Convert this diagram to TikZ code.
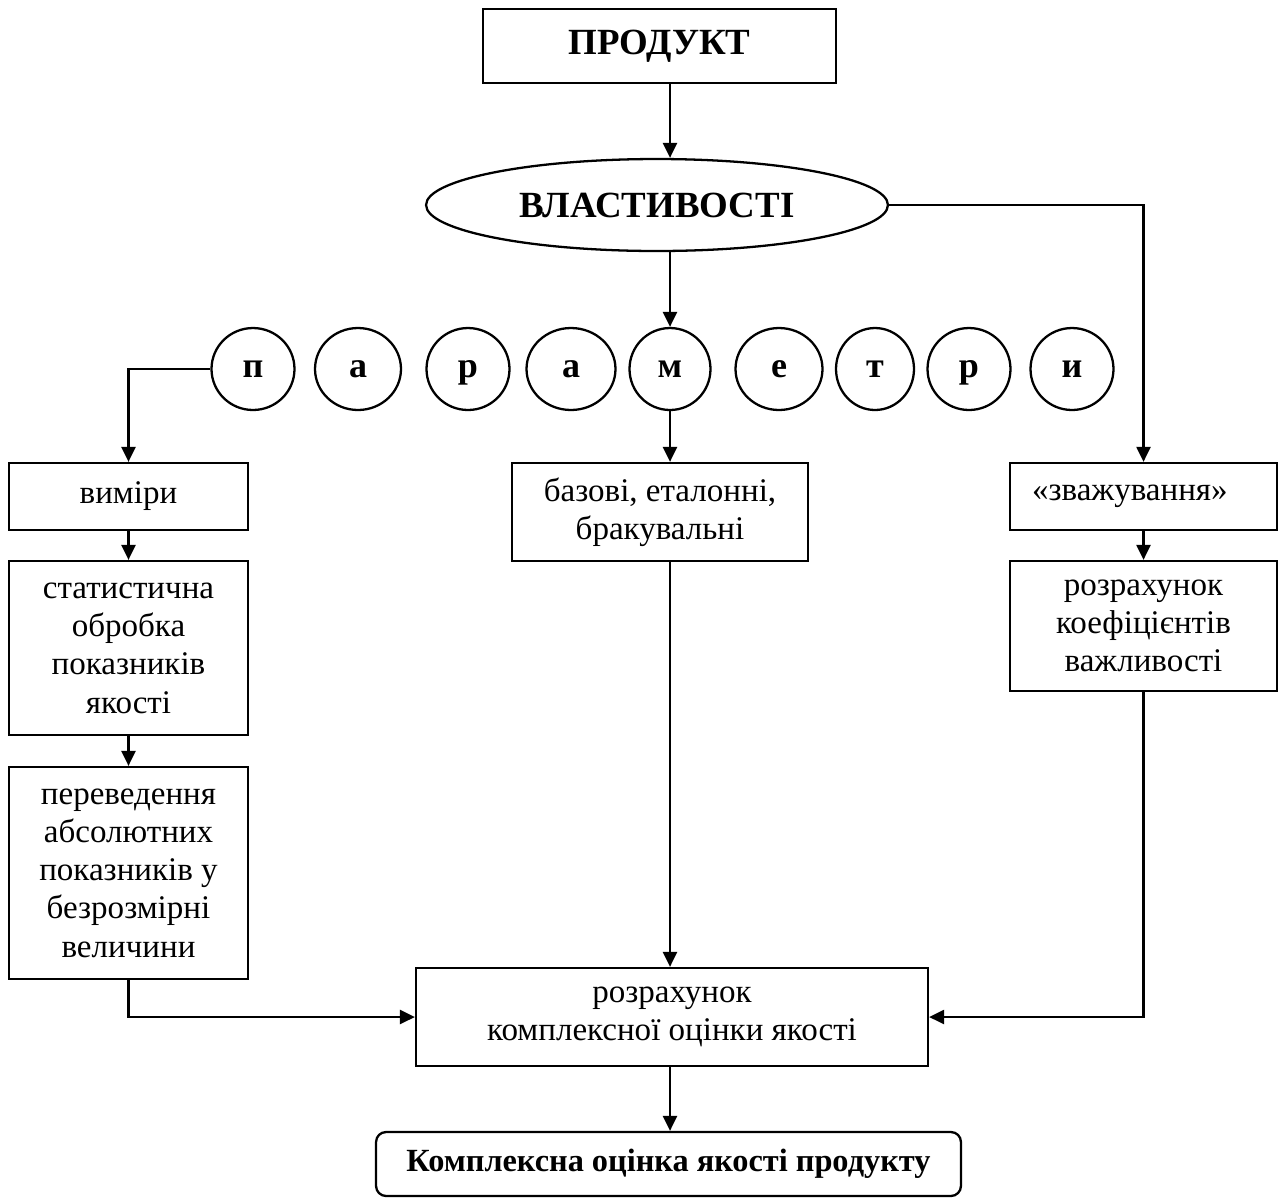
\documentclass[tikz,border=0pt]{standalone}
\usepackage{fontspec}
\setmainfont{Liberation Serif}
\usetikzlibrary{positioning, calc, arrows.meta, shapes.geometric}

\begin{document}
\begin{tikzpicture}[x=0.02cm, y=-0.02cm, line width=1.3pt,
  box/.style={draw, rectangle, inner sep=2pt, align=center, font=\fontsize{18.8}{21.8}\selectfont},
  title/.style={font=\fontsize{21}{24}\selectfont\bfseries},
  letter/.style={draw, ellipse, inner sep=0pt, minimum height=1.64cm, text height=9.6pt, text depth=0pt,
                 font=\fontsize{20.5}{22}\selectfont\bfseries},
  arr/.style={-{Triangle[length=0.3cm,width=0.28cm]}}]
  \useasboundingbox (0,0) rectangle (1284,1198);
  % top
  \node[box, title, minimum width=7.06cm, minimum height=1.48cm] (prod) at (659.5,46) {ПРОДУКТ};
  \node[draw, ellipse, title, inner sep=0pt, minimum width=9.24cm, minimum height=1.84cm] (props) at (657,205) {ВЛАСТИВОСТІ};
  % letters
  \foreach \n/\l/\x/\w in {p1/п/253/1.66cm, a1/а/358/1.72cm, r1/р/468/1.66cm, a2/а/571/1.78cm, m/м/670/1.62cm,
                           e/е/779/1.74cm, t/т/875/1.56cm, r2/р/969/1.66cm, i/и/1072/1.66cm}
     \node[letter, minimum width=\w] (\n) at (\x,369) {\l};
  % left column
  \node[box, minimum width=4.78cm, minimum height=1.34cm] (vym) at (128.5,496.5) {виміри};
  \node[box, minimum width=4.78cm, minimum height=3.48cm] (stat) at (128.5,648) {статистична\\обробка\\показників\\якості};
  \node[box, minimum width=4.78cm, minimum height=4.24cm] (perev) at (128.5,873) {переведення\\абсолютних\\показників у\\безрозмірні\\величини};
  % middle and right
  \node[box, minimum width=5.92cm, minimum height=1.96cm] (baz) at (660,512) {базові, еталонні,\\бракувальні};
  \node[box, align=left, text width=4.46cm, minimum width=5.34cm, minimum height=1.34cm] (zvazh) at (1143.5,496.5) {«зважування»};
  \node[box, minimum width=5.34cm, minimum height=2.6cm] (koef) at (1143.5,626) {розрахунок\\коефіцієнтів\\важливості};
  \node[box, minimum width=10.24cm, minimum height=1.96cm] (rozr) at (672,1017) {розрахунок\\комплексної оцінки якості};
  \node[box, rounded corners=0.2cm, font=\fontsize{18.4}{22}\selectfont\bfseries, minimum width=11.7cm, minimum height=1.28cm] (final) at (668.5,1164) {Комплексна оцінка якості продукту};
  % connectors
  \draw[arr] (prod.south -| m) -- (props.north -| m);
  \draw[arr] (props.south -| m) -- (m.north);
  \draw[arr] (m.south) -- (baz.north -| m);
  \draw[arr] (baz.south -| m) -- (rozr.north -| m);
  \draw[arr] (rozr.south -| m) -- (final.north -| m);
  \draw[arr] (props.east) -| (zvazh.north);
  \draw[arr] (zvazh) -- (koef);
  \draw[arr] (koef.south) |- (rozr.east);
  \draw[arr] (p1.west) -| (vym.north);
  \draw[arr] (vym) -- (stat);
  \draw[arr] (stat) -- (perev);
  \draw[arr] (perev.south) |- (rozr.west);
\end{tikzpicture}
\end{document}
